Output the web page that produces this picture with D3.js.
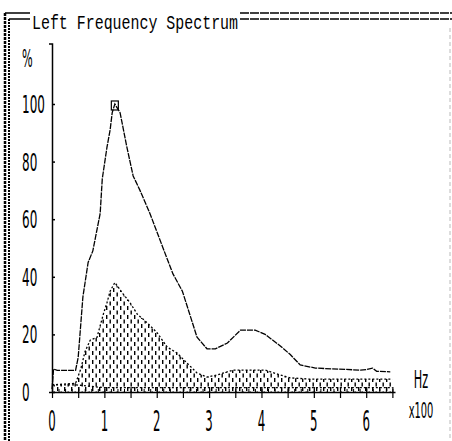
<!DOCTYPE html>
<html>
<head>
<meta charset="utf-8">
<script src="https://cdn.jsdelivr.net/npm/d3@7"></script>
<style>
  html, body { margin: 0; padding: 0; background: #fff; }
  svg { display: block; }
  .lbl { font-family: "DejaVu Sans", sans-serif; fill: #000; }
  .ttl { font-family: "Liberation Mono", "DejaVu Sans Mono", monospace; fill: #000; }
</style>
</head>
<body>
<svg id="chart" width="452" height="441"></svg>
<script>
// frequency in Hz x100, amplitude in %
const title = 'Left Frequency Spectrum';
const xTicks = [0, 1, 2, 3, 4, 5, 6];
const yTicks = [0, 20, 40, 60, 80, 100];

const peakFreq = [0, 0.03, 0.1, 0.45, 0.5, 0.59, 0.69, 0.78, 0.92, 0.96, 1.05, 1.11, 1.15, 1.2,
                  1.3, 1.43, 1.55, 1.68, 1.87, 2.12, 2.31, 2.49, 2.77, 2.96, 3.12, 3.35, 3.6,
                  3.88, 4.07, 4.36, 4.55, 4.74, 5.03, 5.89, 6.0, 6.12, 6.2, 6.46];
const peakVals = [1, 8, 7.5, 7.5, 12, 33, 45, 49, 62, 74, 85, 91, 97, 100,
                  97, 85, 75, 70, 62, 50, 41, 35, 19, 15, 15, 17, 21.5,
                  21.5, 20, 16, 13, 9.4, 8.3, 7.6, 7.8, 8.3, 7.2, 7];

const meanFreq = [0, 0.45, 0.55, 0.63, 0.73, 0.86, 0.92, 0.98, 1.05, 1.11, 1.2, 1.36, 1.49, 1.63,
                  1.82, 2.01, 2.2, 2.39, 2.58, 2.77, 2.96, 3.15, 3.46, 3.78, 4.07, 4.36, 4.55,
                  4.9, 6.5];
const meanVals = [2.5, 3, 8, 14, 18, 19, 23, 27, 31, 35, 38, 34, 31, 27,
                  24, 20.5, 15.6, 13.5, 10, 6.6, 5.2, 5.9, 7.6, 7.6, 7.6, 5.9, 4.9,
                  4.5, 4.5];

const lowFreq = [0, 0.45, 1, 6.5];
const lowVals = [2.5, 2.5, 1.5, 1.5];

const svg = d3.select('#chart');

const x = d3.scaleLinear().domain([0, 6.55]).range([52, 395]);
const y = d3.scaleLinear().domain([0, 121]).range([392, 43.5]);

// condensed text helper: the screen font is tall and narrow
function label(px, py, txt, size, sx, anchor) {
    return svg.append('text')
        .attr('class', 'lbl')
        .attr('transform', `translate(${px},${py}) scale(${sx},1)`)
        .attr('font-size', size)
        .attr('text-anchor', anchor || 'start')
        .text(txt);
}

// frame
const frame = svg.append('g').attr('stroke', '#000').attr('fill', 'none');
frame.append('line').attr('x1', 5).attr('x2', 5).attr('y1', 13).attr('y2', 441)
    .attr('stroke-width', 2.5).attr('stroke-dasharray', '3,1');
frame.append('line').attr('x1', 9).attr('x2', 9).attr('y1', 19).attr('y2', 441)
    .attr('stroke-width', 2).attr('stroke-dasharray', '2,1');
[13, 19].forEach(yy => {
    frame.append('line').attr('x1', yy === 13 ? 5 : 9).attr('x2', 30).attr('y1', yy).attr('y2', yy).attr('stroke-width', 1.5);
    frame.append('line').attr('x1', 240).attr('x2', 452).attr('y1', yy).attr('y2', yy)
        .attr('stroke-width', 1.5).attr('stroke-dasharray', '9,1');
});
frame.append('line').attr('x1', 450).attr('x2', 450).attr('y1', 28).attr('y2', 441)
    .attr('stroke', '#bbb').attr('stroke-dasharray', '4,3');

svg.append('text').attr('class', 'ttl')
    .attr('x', 32).attr('y', 29)
    .attr('font-size', 20)
    .attr('textLength', 206).attr('lengthAdjust', 'spacingAndGlyphs')
    .text(title);

// fill pattern of short vertical dashes
const defs = svg.append('defs');
const pat = defs.append('pattern').attr('id', 'dots')
    .attr('patternUnits', 'userSpaceOnUse').attr('width', 7).attr('height', 9);
pat.append('rect').attr('x', 1).attr('y', 0).attr('width', 1.4).attr('height', 4).attr('fill', '#000');
pat.append('rect').attr('x', 4.5).attr('y', 4.5).attr('width', 1.4).attr('height', 4).attr('fill', '#000');

const meanData = meanFreq.map((f, i) => [f, meanVals[i]]);
const peakData = peakFreq.map((f, i) => [f, peakVals[i]]);
const lowData = lowFreq.map((f, i) => [f, lowVals[i]]);

svg.append('path').datum(meanData)
    .attr('fill', 'url(#dots)')
    .attr('d', d3.area().x(d => x(d[0])).y0(y(0)).y1(d => y(d[1])));
svg.append('path').datum(meanData)
    .attr('fill', 'none').attr('stroke', '#000').attr('stroke-width', 1.3)
    .attr('stroke-dasharray', '2,2')
    .attr('d', d3.line().x(d => x(d[0])).y(d => y(d[1])));

svg.append('path').datum(lowData)
    .attr('fill', 'none').attr('stroke', '#000').attr('stroke-width', 1.3)
    .attr('stroke-dasharray', '2,2')
    .attr('d', d3.line().x(d => x(d[0])).y(d => y(d[1])));

svg.append('path').datum(peakData)
    .attr('fill', 'none').attr('stroke', '#000').attr('stroke-width', 1.3)
    .attr('stroke-dasharray', '6,1')
    .attr('d', d3.line().x(d => x(d[0])).y(d => y(d[1])));

// marker on the maximum
const maxPt = peakData.reduce((a, b) => b[1] > a[1] ? b : a);
svg.append('rect')
    .attr('x', x(maxPt[0]) - 3.5).attr('y', y(maxPt[1]) - 3)
    .attr('width', 7).attr('height', 9)
    .attr('fill', 'none').attr('stroke', '#000').attr('stroke-width', 1.2);

// x axis
const xAxis = svg.append('g').attr('transform', `translate(0,${y(0)})`)
    .call(d3.axisBottom(x).tickValues(d3.range(0, 6.51, 0.5)).tickSizeInner(6).tickSizeOuter(0)
        .tickFormat(() => ''));
xAxis.selectAll('.tick line').attr('y1', -5).attr('stroke-width', 1.2);
xAxis.select('.domain').attr('stroke-width', 1.5);
svg.append('g').attr('transform', `translate(0,${y(0)})`)
    .call(d3.axisTop(x).tickValues(d3.range(0, 6.51, 0.125)).tickSize(3).tickFormat(() => ''))
    .call(g => g.select('.domain').remove());
xTicks.forEach(t => label(x(t), 431, t, 28, 0.42, 'middle'));

// y axis
const yAxis = svg.append('g').attr('transform', `translate(${x(0)},0)`)
    .call(d3.axisLeft(y).tickValues(yTicks).tickSizeInner(3).tickSizeOuter(3).tickFormat(() => ''));
yAxis.selectAll('.tick line').attr('x2', 3).attr('stroke-width', 1.5);
yAxis.select('.domain').attr('stroke-width', 1.5);
yTicks.forEach(t => label(22, y(t) + 9, t, 25, 0.48));

label(22, 67, '%', 25, 0.45);
label(421, 388, 'Hz', 25, 0.45, 'middle');
label(421, 418, 'x100', 22, 0.45, 'middle');
</script>
</body>
</html>
